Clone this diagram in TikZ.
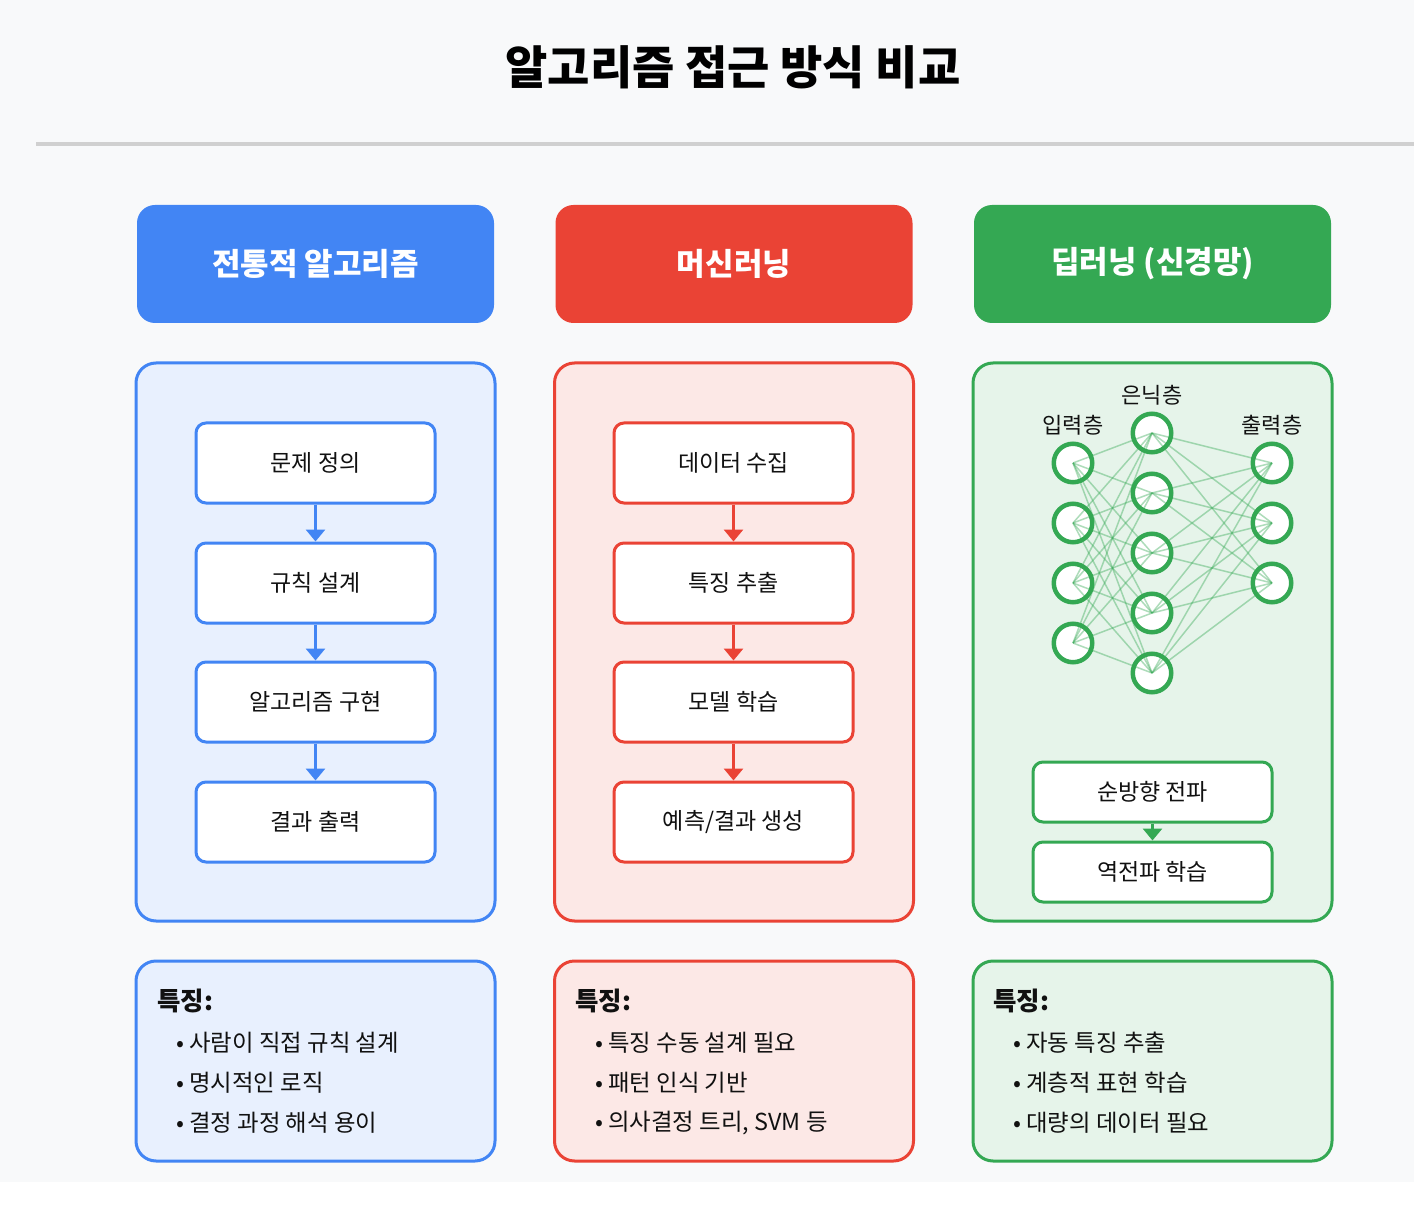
\documentclass[tikz,border=0pt]{standalone}
\usepackage{fontspec}
\setmainfont{Noto Sans CJK KR}
\usetikzlibrary{arrows.meta}
\definecolor{gblue}{HTML}{4285F4}
\definecolor{gred}{HTML}{EA4335}
\definecolor{ggreen}{HTML}{34A853}
\definecolor{lblue}{HTML}{E8F0FE}
\definecolor{lred}{HTML}{FCE8E6}
\definecolor{lgreen}{HTML}{E6F4EA}
\definecolor{pagebg}{HTML}{F8F9FA}
\definecolor{divider}{HTML}{D0D0D0}
\definecolor{txt}{HTML}{111111}
\tikzset{
  header/.style={rounded corners=18pt, minimum width=357pt, minimum height=118pt, text=white, font=\fontsize{31}{36}\selectfont\bfseries},
  panel/.style={rounded corners=20pt, line width=3pt, minimum width=359pt, minimum height=558pt},
  featbox/.style={rounded corners=20pt, line width=3pt, minimum width=359pt, minimum height=200pt},
  stepbox/.style={rounded corners=10pt, line width=3pt, fill=white, minimum width=239pt, minimum height=80pt, text=txt, font=\fontsize{23}{27}\selectfont},
  smallstep/.style={stepbox, minimum height=60pt},
  flow/.style={line width=3pt, -{Triangle[width=19pt,length=12pt]}},
  feattitle/.style={anchor=west, inner sep=0pt, text=txt, font=\fontsize{25.5}{30}\selectfont\bfseries},
  featitem/.style={anchor=west, inner sep=0pt, text=txt, font=\fontsize{23.4}{28}\selectfont},
  neuron/.style={circle, minimum size=40pt, inner sep=0pt, fill=white, draw=ggreen, line width=3pt},
  nnlink/.style={ggreen, opacity=0.4, line width=1.5pt},
  layerlabel/.style={text=txt, font=\fontsize{22}{26}\selectfont, inner sep=0pt}
}
\begin{document}
\begin{tikzpicture}[x=1pt,y=-1pt]
\useasboundingbox (0,0) rectangle (1414,1222);
\fill[pagebg] (0,0) rectangle (1414,1182);
\fill[white] (0,1182) rectangle (1414,1222);

\node[text=black, font=\fontsize{46}{54}\selectfont\bfseries] (title) at (733,67) {알고리즘 접근 방식 비교};
\coordinate (divL) at (36,144);
\coordinate (divR) at (1414,144);
\draw[divider, line width=3.5pt] (divL) -- (divR);

% headers
\node[header, fill=gblue] (h1) at (315.5,264) {전통적 알고리즘};
\node[header, fill=gred] (h2) at (734,264) {머신러닝};
\node[header, fill=ggreen] (h3) at (1152.5,264) {딥러닝 (신경망)};

% panels
\node[panel, draw=gblue, fill=lblue] (p1) at (315.5,642) {};
\node[panel, draw=gred, fill=lred] (p2) at (734,642) {};
\node[panel, draw=ggreen, fill=lgreen] (p3) at (1152.5,642) {};

% column 1
\node[stepbox, draw=gblue] (a1) at (315.5,463) {문제 정의};
\node[stepbox, draw=gblue] (a2) at (315.5,583) {규칙 설계};
\node[stepbox, draw=gblue] (a3) at (315.5,702) {알고리즘 구현};
\node[stepbox, draw=gblue] (a4) at (315.5,822) {결과 출력};
\draw[flow, gblue] (a1) -- (a2);
\draw[flow, gblue] (a2) -- (a3);
\draw[flow, gblue] (a3) -- (a4);

% column 2
\node[stepbox, draw=gred] (b1) at (733.5,463) {데이터 수집};
\node[stepbox, draw=gred] (b2) at (733.5,583) {특징 추출};
\node[stepbox, draw=gred] (b3) at (733.5,702) {모델 학습};
\node[stepbox, draw=gred] (b4) at (733.5,822) {예측/결과 생성};
\draw[flow, gred] (b1) -- (b2);
\draw[flow, gred] (b2) -- (b3);
\draw[flow, gred] (b3) -- (b4);

% column 3: network
\node[neuron] (i1) at (1073,463) {};
\node[neuron] (i2) at (1073,523) {};
\node[neuron] (i3) at (1073,583) {};
\node[neuron] (i4) at (1073,643) {};
\node[neuron] (n1) at (1152,433) {};
\node[neuron] (n2) at (1152,493) {};
\node[neuron] (n3) at (1152,553) {};
\node[neuron] (n4) at (1152,613) {};
\node[neuron] (n5) at (1152,673) {};
\node[neuron] (o1) at (1272,463) {};
\node[neuron] (o2) at (1272,523) {};
\node[neuron] (o3) at (1272,583) {};
\foreach \a in {i1,i2,i3,i4}{\foreach \b in {n1,n2,n3,n4,n5}{\draw[nnlink] (\a.center) -- (\b.center);}}
\foreach \a in {n1,n2,n3,n4,n5}{\foreach \b in {o1,o2,o3}{\draw[nnlink] (\a.center) -- (\b.center);}}
\foreach \a in {i1,i2,i3,i4,n1,n2,n3,n4,n5,o1,o2,o3}{\draw[ggreen, line width=3pt] (\a.center) circle[radius=18.5pt];}
\node[layerlabel] (lin) at (1073,425) {입력층};
\node[layerlabel] (lhid) at (1152,395) {은닉층};
\node[layerlabel] (lout) at (1272,425) {출력층};

\node[smallstep, draw=ggreen] (c1) at (1152.5,792) {순방향 전파};
\node[smallstep, draw=ggreen] (c2) at (1152.5,872) {역전파 학습};
\draw[flow, ggreen] (c1) -- (c2);

% feature boxes
\node[featbox, draw=gblue, fill=lblue] (f1) at (315.5,1061) {};
\node[featbox, draw=gred, fill=lred] (f2) at (734,1061) {};
\node[featbox, draw=ggreen, fill=lgreen] (f3) at (1152.5,1061) {};

\node[feattitle] (f1t) at (157,1001) {특징:};
\node[featitem] (f1a) at (176,1043) {• 사람이 직접 규칙 설계};
\node[featitem] (f1b) at (176,1083) {• 명시적인 로직};
\node[featitem] (f1c) at (176,1123) {• 결정 과정 해석 용이};

\node[feattitle] (f2t) at (575,1001) {특징:};
\node[featitem] (f2a) at (595,1043) {• 특징 수동 설계 필요};
\node[featitem] (f2b) at (595,1083) {• 패턴 인식 기반};
\node[featitem] (f2c) at (595,1123) {• 의사결정 트리, SVM 등};

\node[feattitle] (f3t) at (993,1001) {특징:};
\node[featitem] (f3a) at (1013,1043) {• 자동 특징 추출};
\node[featitem] (f3b) at (1013,1083) {• 계층적 표현 학습};
\node[featitem] (f3c) at (1013,1123) {• 대량의 데이터 필요};
\end{tikzpicture}
\end{document}
